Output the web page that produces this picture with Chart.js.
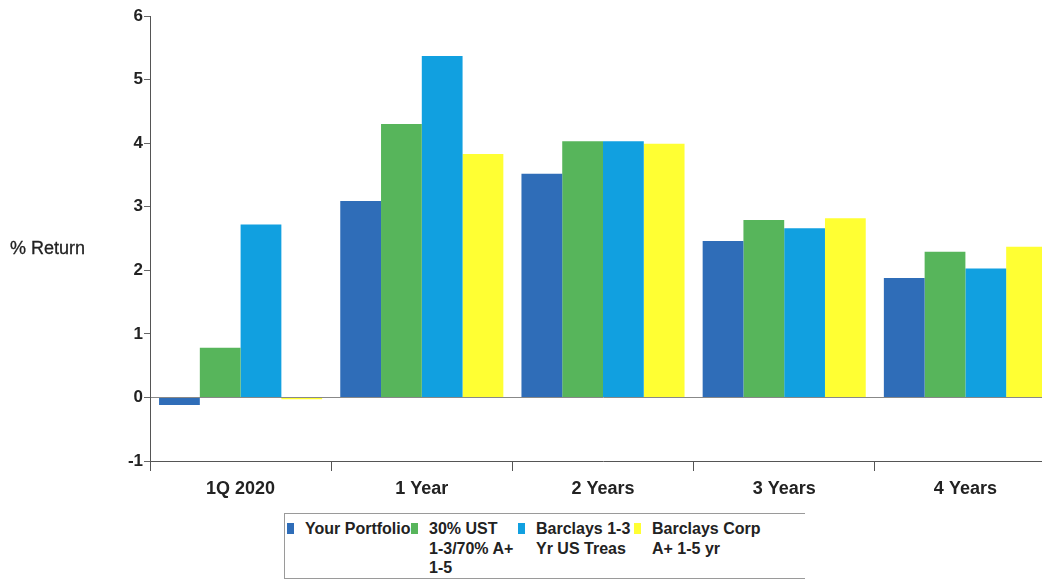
<!DOCTYPE html>
<html>
<head>
<meta charset="utf-8">
<script src="https://cdn.jsdelivr.net/npm/chart.js@4/dist/chart.umd.min.js"></script>
<style>
    html, body {
        margin: 0;
        padding: 0;
        background: #fff;
        overflow: hidden;
        width: 1042px;
        height: 581px;
        font-family: "Liberation Sans", Arial, sans-serif;
    }
    .chart-wrap {
        position: absolute;
        left: 0;
        top: 0;
        width: 1056px;
        height: 510px;
    }
    .y-title {
        position: absolute;
        left: 10px;
        top: 238px;
        font-size: 18px;
        color: #222;
        -webkit-text-stroke: 0.3px #222;
    }
    .legend {
        position: absolute;
        left: 284px;
        top: 513px;
        width: 520px;
        height: 64px;
        border: 1px solid #9a9a9a;
        border-right: none;
    }
    .legend-item {
        position: absolute;
        top: 5px;
        display: flex;
        align-items: flex-start;
        overflow: hidden;
    }
    .legend-item .swatch {
        width: 7px;
        height: 11px;
        margin-top: 4px;
        margin-right: 11px;
        flex: none;
    }
    .legend-item .text {
        font-size: 16px;
        font-weight: bold;
        line-height: 19.5px;
        color: #222;
        white-space: pre;
    }
</style>
</head>
<body>
<div class="chart-wrap"><canvas id="returnsChart"></canvas></div>
<div class="y-title">% Return</div>
<div class="legend" id="legend"></div>

<script>
// Chart data
const categories = ['1Q 2020', '1 Year', '2 Years', '3 Years', '4 Years'];
const seriesNames = [
    'Your Portfolio',
    '30% UST\n1-3/70% A+\n1-5',
    'Barclays 1-3\nYr US Treas',
    'Barclays Corp\nA+ 1-5 yr'
];
const yourPortfolio = [-0.12, 3.09, 3.52, 2.46, 1.88];
const blend30UST = [0.78, 4.30, 4.03, 2.79, 2.29];
const barclaysTreas = [2.72, 5.37, 4.03, 2.66, 2.03];
const barclaysCorp = [-0.03, 3.83, 3.99, 2.82, 2.37];
const yTicks = [-1, 0, 1, 2, 3, 4, 5, 6];

const seriesColors = ['#2f6db8', '#57b55b', '#11a0e0', '#ffff33'];
const seriesValues = [yourPortfolio, blend30UST, barclaysTreas, barclaysCorp];

// Legend boxes (left offset, clip width)
const legendSlots = [[2, 127], [126, 107], [233, 116], [349, 150]];

function buildLegend() {
    const legend = document.getElementById('legend');
    seriesNames.forEach((name, i) => {
        const item = document.createElement('div');
        item.className = 'legend-item';
        item.style.left = legendSlots[i][0] + 'px';
        item.style.width = legendSlots[i][1] + 'px';
        item.innerHTML = `<div class="swatch" style="background:${seriesColors[i]}"></div><div class="text"></div>`;
        item.querySelector('.text').textContent = name;
        legend.appendChild(item);
    });
}

function buildChart() {
    const ctx = document.getElementById('returnsChart');

    const chart = new Chart(ctx, {
        type: 'bar',
        data: {
            labels: categories,
            datasets: seriesNames.map((name, i) => ({
                label: name,
                data: seriesValues[i],
                backgroundColor: seriesColors[i],
                borderWidth: 0,
                categoryPercentage: 0.9,
                barPercentage: 1
            }))
        },
        options: {
            responsive: true,
            maintainAspectRatio: false,
            animation: false,
            layout: {
                padding: { top: 16, right: 0, left: 0, bottom: 0 }
            },
            plugins: {
                legend: { display: false },
                tooltip: { enabled: false }
            },
            scales: {
                x: {
                    offset: true,
                    grid: {
                        offset: true,
                        drawOnChartArea: false,
                        drawTicks: true,
                        tickLength: 10,
                        color: '#555'
                    },
                    border: { color: '#555', width: 1 },
                    ticks: {
                        color: '#222',
                        padding: 7,
                        font: { family: 'Liberation Sans', size: 18, weight: 'bold' }
                    },
                    afterFit: function (scale) {
                        scale.height = 49;
                    }
                },
                y: {
                    min: -1,
                    max: 6,
                    afterBuildTicks: function (scale) {
                        scale.ticks = yTicks.map(v => ({ value: v }));
                    },
                    grid: {
                        drawOnChartArea: true,
                        drawTicks: true,
                        tickLength: 6,
                        color: function (c) {
                            return c.tick && c.tick.value === 0 ? '#888' : 'rgba(0,0,0,0)';
                        },
                        tickColor: '#666',
                        borderDash: [6, 5]
                    },
                    border: { color: '#555', width: 1 },
                    ticks: {
                        color: '#222',
                        padding: 1,
                        font: { family: 'Liberation Sans', size: 17, weight: 'bold' }
                    },
                    afterFit: function (scale) {
                        scale.width = 150;
                    }
                }
            }
        }
    });

    ctx.chart = chart;
}

document.addEventListener('DOMContentLoaded', () => {
    buildLegend();
    buildChart();
});
</script>
</body>
</html>
